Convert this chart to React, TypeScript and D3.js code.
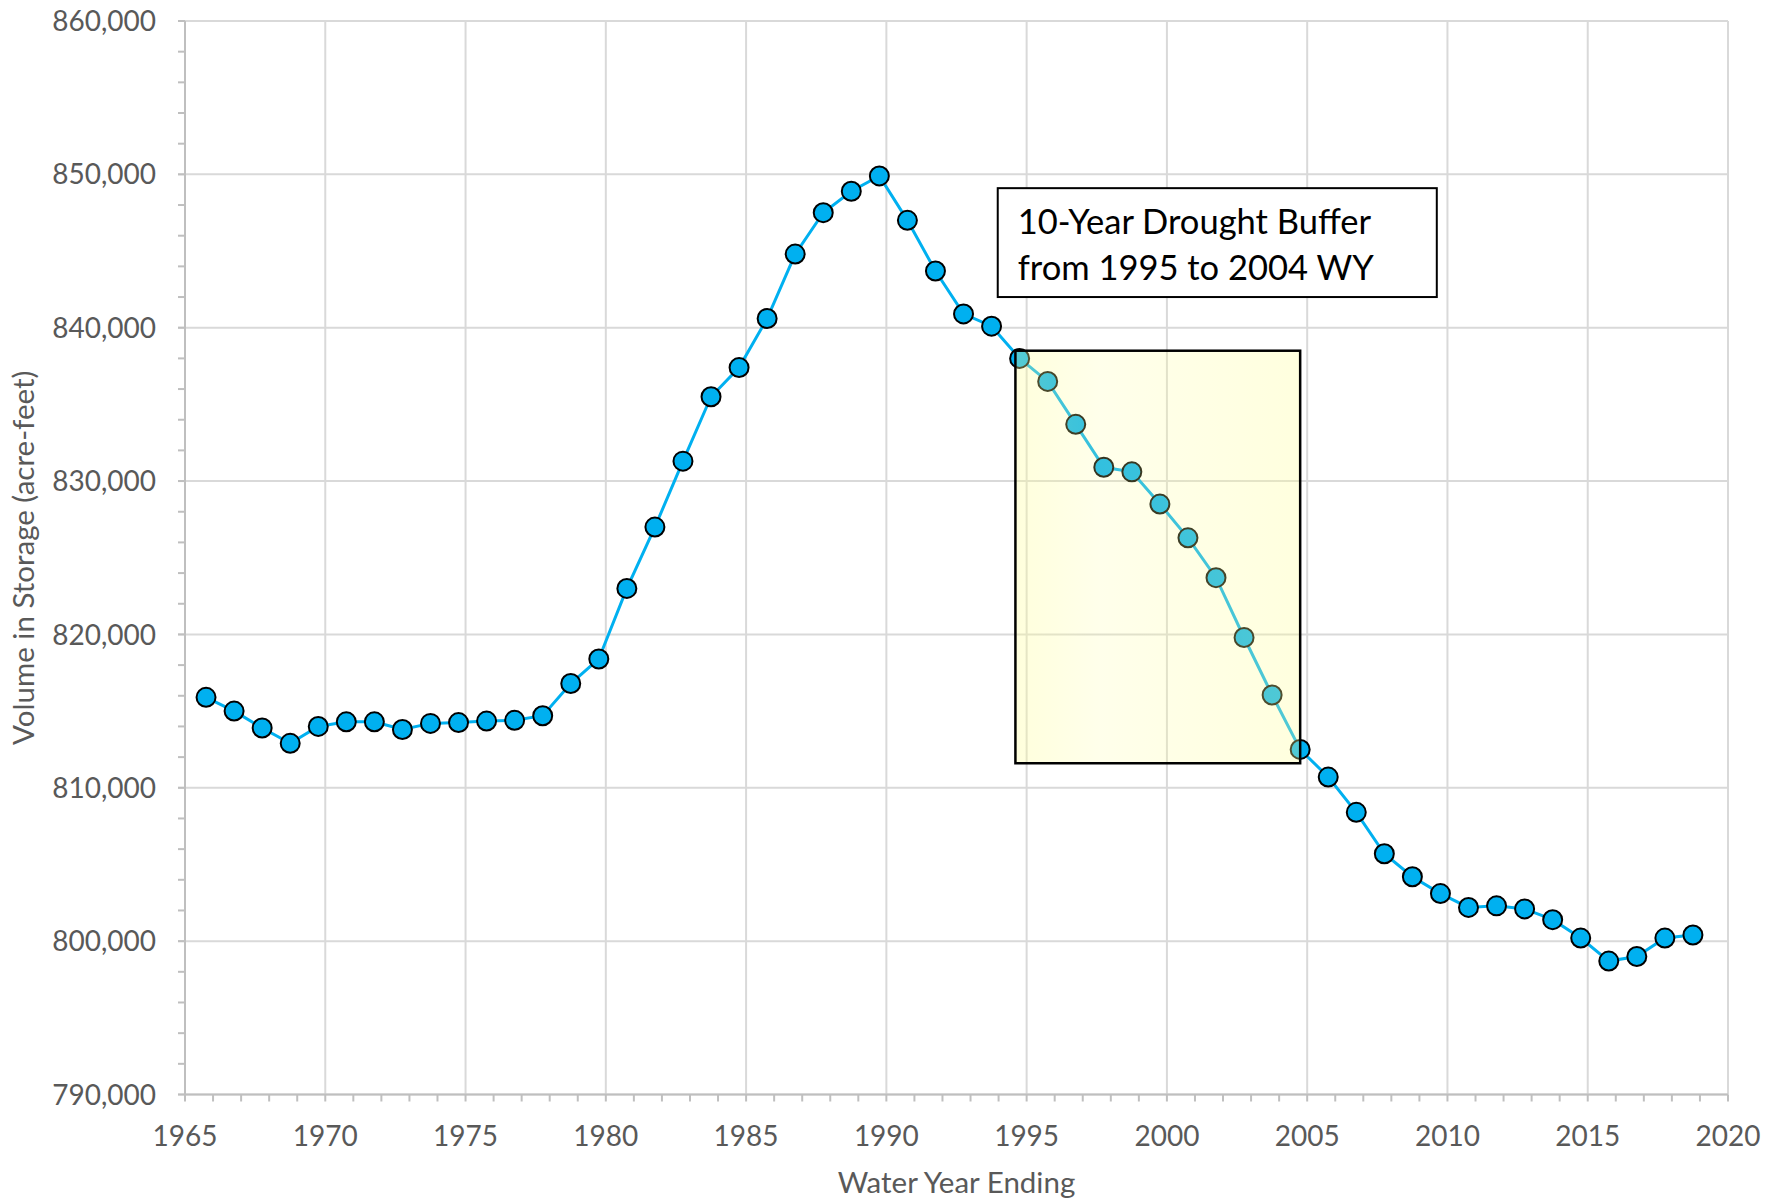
import React from "react";
import * as d3 from "d3";

// Water years and end-of-year storage (acre-feet)
const waterYears = [
  1966, 1967, 1968, 1969, 1970, 1971, 1972, 1973, 1974, 1975, 1976, 1977, 1978, 1979,
  1980, 1981, 1982, 1983, 1984, 1985, 1986, 1987, 1988, 1989, 1990, 1991, 1992, 1993,
  1994, 1995, 1996, 1997, 1998, 1999, 2000, 2001, 2002, 2003, 2004, 2005, 2006, 2007,
  2008, 2009, 2010, 2011, 2012, 2013, 2014, 2015, 2016, 2017, 2018, 2019,
];
const storage = [
  815900, 815000, 813900, 812900, 814000, 814300, 814300, 813800, 814200, 814250, 814350, 814400, 814700, 816800,
  818400, 823000, 827000, 831300, 835500, 837400, 840600, 844800, 847500, 848900, 849900, 847000, 843700, 840900,
  840100, 838000, 836500, 833700, 830900, 830600, 828500, 826300, 823700, 819800, 816050, 812500, 810700, 808400,
  805700, 804200, 803100, 802200, 802300, 802100, 801400, 800200, 798700, 799000, 800200, 800400,
];

const xTicks = [1965, 1970, 1975, 1980, 1985, 1990, 1995, 2000, 2005, 2010, 2015, 2020];
const yTicks = [790000, 800000, 810000, 820000, 830000, 840000, 850000, 860000];

// Drought buffer highlight (decimal years / acre-feet)
const bufferX = [1994.6, 2004.75];
const bufferY = [811600, 838500];
// Annotation text box (decimal years / acre-feet)
const noteX = [1993.97, 2009.62];
const noteY = [842000, 849100];
const noteLines = ["10-Year Drought Buffer", "from 1995 to 2004 WY"];

const W = 1784;
const H = 1202;
const LEFT = 185;
const RIGHT = 1728;
const TOP = 21;
const BOTTOM = 1094.5;

const FONT = "Lato, 'Open Sans', sans-serif";

export default function App() {
  const x = d3.scaleLinear().domain([1965, 2020]).range([LEFT, RIGHT]);
  const y = d3.scaleLinear().domain([790000, 860000]).range([BOTTOM, TOP]);

  // values are plotted at the start of each water year (Oct 1 of prior year)
  const pts = waterYears.map((wy, i) => ({ x: x(wy - 0.25), y: y(storage[i]) }));
  const line = d3
    .line<{ x: number; y: number }>()
    .x((d) => d.x)
    .y((d) => d.y);

  const minorX = d3.range(1965, 2021, 1);
  const minorY = d3.range(790000, 860001, 2000);

  const fmt = d3.format(",");

  const bx0 = x(bufferX[0]);
  const bx1 = x(bufferX[1]);
  const by0 = y(bufferY[1]);
  const by1 = y(bufferY[0]);

  const nx0 = x(noteX[0]);
  const nx1 = x(noteX[1]);
  const ny0 = y(noteY[1]);
  const ny1 = y(noteY[0]);

  return (
    <svg
      width={W}
      height={H}
      style={{ position: "absolute", left: 0, top: 0, background: "#fff" }}
      fontFamily={FONT}
    >
      <defs>
        <linearGradient id="buf" x1="0" y1="0" x2="1" y2="0">
          <stop offset="0" stopColor="#FFFF99" stopOpacity={0.34} />
          <stop offset="0.3" stopColor="#FFFF99" stopOpacity={0.2} />
          <stop offset="1" stopColor="#FFFF99" stopOpacity={0.32} />
        </linearGradient>
      </defs>
      <rect x={0} y={0} width={W} height={H} fill="#fff" />

      {/* gridlines */}
      {yTicks.map((t) => (
        <line key={"gy" + t} x1={LEFT - 7} x2={RIGHT} y1={y(t)} y2={y(t)} stroke="#D9D9D9" strokeWidth={2} />
      ))}
      {xTicks.map((t) => (
        <line key={"gx" + t} x1={x(t)} x2={x(t)} y1={TOP} y2={BOTTOM} stroke="#D9D9D9" strokeWidth={2} />
      ))}

      {/* minor ticks */}
      {minorY.map((t) => (
        <line key={"my" + t} x1={LEFT - 7} x2={LEFT} y1={y(t)} y2={y(t)} stroke="#BFBFBF" strokeWidth={2} />
      ))}
      {minorX.map((t) => (
        <line key={"mx" + t} x1={x(t)} x2={x(t)} y1={BOTTOM} y2={BOTTOM + 7} stroke="#BFBFBF" strokeWidth={2} />
      ))}

      {/* axes */}
      <line x1={LEFT} x2={LEFT} y1={TOP} y2={BOTTOM} stroke="#BFBFBF" strokeWidth={2} />
      <line x1={LEFT} x2={RIGHT} y1={BOTTOM} y2={BOTTOM} stroke="#BFBFBF" strokeWidth={2} />

      {/* tick labels */}
      {yTicks.map((t) => (
        <text key={"ty" + t} x={156} y={y(t)} dy="0.36em" textAnchor="end" fontSize={28} fill="#595959">
          {fmt(t)}
        </text>
      ))}
      {xTicks.map((t) => (
        <text key={"tx" + t} x={x(t)} y={1146} textAnchor="middle" fontSize={28} fill="#595959">
          {t}
        </text>
      ))}

      {/* axis titles */}
      <text
        transform={`translate(34, ${(TOP + BOTTOM) / 2}) rotate(-90)`}
        textAnchor="middle"
        fontSize={29.5}
        fill="#595959"
      >
        Volume in Storage (acre-feet)
      </text>
      <text x={(LEFT + RIGHT) / 2} y={1193} textAnchor="middle" fontSize={29.5} fill="#595959">
        Water Year Ending
      </text>

      {/* series */}
      <path d={line(pts) || ""} fill="none" stroke="#00B0F0" strokeWidth={3} />
      {pts.map((p, i) => (
        <circle key={"p" + i} cx={p.x} cy={p.y} r={9.5} fill="#00B0F0" stroke="#000" strokeWidth={2} />
      ))}

      {/* drought buffer overlay */}
      <rect
        x={bx0}
        y={by0}
        width={bx1 - bx0}
        height={by1 - by0}
        fill="url(#buf)"
        stroke="#000"
        strokeWidth={2.5}
      />

      {/* annotation */}
      <rect x={nx0} y={ny0} width={nx1 - nx0} height={ny1 - ny0} fill="#fff" stroke="#000" strokeWidth={2} />
      {noteLines.map((s, i) => (
        <text key={"n" + i} x={nx0 + 20} y={ny0 + 46 + i * 46} fontSize={34.5} fill="#000">
          {s}
        </text>
      ))}
    </svg>
  );
}
